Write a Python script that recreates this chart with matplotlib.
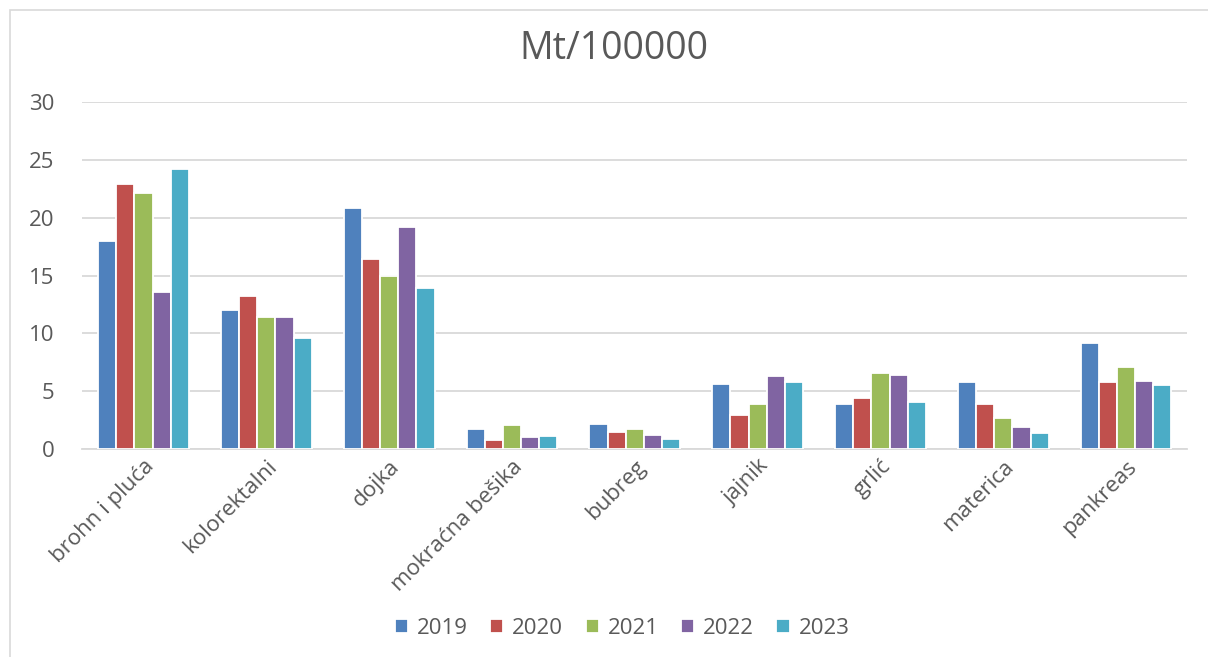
import matplotlib.pyplot as plt
import numpy as np
from matplotlib.patches import Rectangle

plt.rcParams['font.family'] = ['Open Sans', 'DejaVu Sans']

# categories and yearly values
categories = ['brohn i pluća', 'kolorektalni', 'dojka', 'mokraćna bešika', 'bubreg',
              'jajnik', 'grlić', 'materica', 'pankreas']
years = ['2019', '2020', '2021', '2022', '2023']
v2019 = [18.0, 12.0, 20.8, 1.7, 2.2, 5.6, 3.9, 5.8, 9.2]
v2020 = [22.9, 13.2, 16.4, 0.8, 1.45, 2.9, 4.4, 3.9, 5.8]
v2021 = [22.1, 11.4, 15.0, 2.1, 1.75, 3.9, 6.6, 2.65, 7.1]
v2022 = [13.6, 11.4, 19.2, 1.0, 1.25, 6.3, 6.4, 1.9, 5.9]
v2023 = [24.2, 9.6, 13.9, 1.15, 0.9, 5.8, 4.1, 1.4, 5.5]
series = [v2019, v2020, v2021, v2022, v2023]
colors = ['#4F81BD', '#C0504D', '#9BBB59', '#8064A2', '#4BACC6']

fig = plt.figure(figsize=(12.08, 6.57), dpi=100)
ax = fig.add_axes([0.068, 0.3166, 0.915, 0.528])

x = np.arange(len(categories))
w = 0.148
for i, (vals, col, yr) in enumerate(zip(series, colors, years)):
    ax.bar(x + (i - 2) * w, vals, width=w, color=col, edgecolor='white',
           linewidth=1.3, label=yr, zorder=3)

ax.set_xlim(-0.5, len(categories) - 0.5)
ax.set_ylim(0, 30)
ax.set_yticks(range(0, 31, 5))
ax.yaxis.grid(True, color='#D9D9D9', linewidth=1.3, zorder=0)
for s in ['top', 'right', 'left']:
    ax.spines[s].set_visible(False)
ax.spines['bottom'].set_color('#D9D9D9')
ax.spines['bottom'].set_linewidth(1.3)
ax.tick_params(axis='both', length=0, labelsize=16, colors='#595959')
ax.tick_params(axis='y', pad=20)
ax.set_xticks(x)
ax.set_xticklabels(categories, rotation=45, ha='right', rotation_mode='anchor')
ax.tick_params(axis='x', pad=5)

fig.text(0.508, 0.925, 'Mt/100000', ha='center', va='center', fontsize=27, color='#595959')

fig.legend(loc='center', bbox_to_anchor=(0.515, 0.044), ncol=5, frameon=False,
           fontsize=16, handlelength=0.6, handleheight=0.6, handletextpad=0.4,
           columnspacing=1.0, labelcolor='#595959')

fig.patches.append(Rectangle((0.008, -0.01), 1.0, 0.995, transform=fig.transFigure,
                             fill=False, edgecolor='#D9D9D9', linewidth=1.2))

fig.savefig('out.png', dpi=100)
